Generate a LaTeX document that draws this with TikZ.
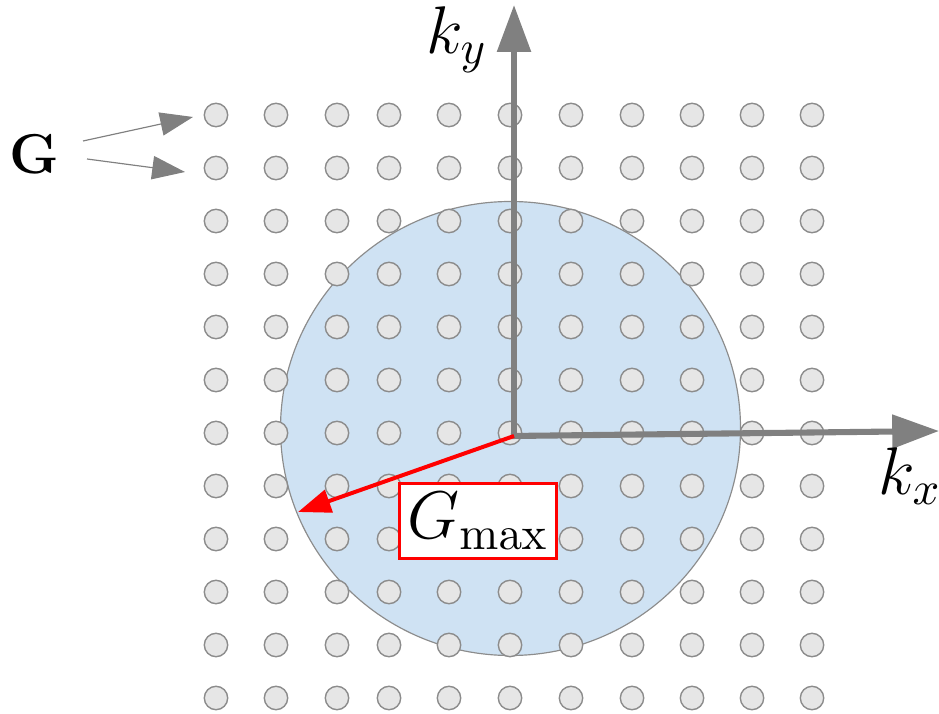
\documentclass[tikz,border=0pt]{standalone}
\usepackage{amsmath, amssymb}
\usetikzlibrary{arrows.meta, positioning}
\definecolor{mDot}{HTML}{E6E6E6}
\definecolor{mDotLine}{HTML}{8C8C8C}
\definecolor{mSphere}{HTML}{CFE2F3}
\definecolor{mAxis}{HTML}{808080}
\definecolor{mRed}{HTML}{FF0000}

\begin{document}
\begin{tikzpicture}[x=0.0075cm, y=-0.0075cm,
      gdot/.style={circle, draw=mDotLine, fill=mDot, line width=0.3pt, minimum size=5pt, inner sep=0pt},
      axis/.style={draw=mAxis, line width=1.3pt, -{Triangle[length=10pt, width=7pt]}},
      garrow/.style={draw=mAxis, line width=0.25pt, -{Triangle[length=7pt, width=5pt]}}]
    \useasboundingbox (0,0) rectangle (939,713);
    % cutoff sphere
    \fill[mSphere, draw=mDotLine, line width=0.25pt] (510.5,428.5) ellipse [x radius=230, y radius=227];
    % reciprocal lattice points
    \foreach \x [count=\i] in {216,276,337,389,449,510,571,632,692,752,812}
      \foreach \y [count=\j] in {115,168,221,274,327,380,433,486,539,592,645,698}
        \node[gdot] (d-\i-\j) at (\x,\y) {};
    % axes
    \coordinate (o) at (514,436);
    \coordinate (ytip) at (514,5);
    \coordinate (xtip) at (939,431);
    \draw[axis] ([yshift=-0.65pt]o) -- (ytip);
    \draw[axis] ([xshift=-0.65pt]o) -- (xtip);
    \node (ky) at (457,40) {\Large $k_y$};
    \node (kx) at (910,476) {\Large $k_x$};
    % G_max
    \coordinate (gm) at (298,512);
    \draw[mRed, line width=0.85pt, -{Triangle[length=7pt, width=5pt]}] (o) -- (gm);
    \node[draw=mRed, fill=white, line width=0.6pt, minimum width=33.5pt, minimum height=16pt, inner sep=1pt] (gmax) at (478,521) {\Large $G_{\max}$};
    % G vectors
    \node (g) at (34,154) {\large $\mathbf{G}$};
    \coordinate (ga1) at (83,141); \coordinate (ga2) at (193,117);
    \coordinate (gb1) at (87,159); \coordinate (gb2) at (185,172);
    \draw[garrow] (ga1) -- (ga2);
    \draw[garrow] (gb1) -- (gb2);
  \end{tikzpicture}
\end{document}
